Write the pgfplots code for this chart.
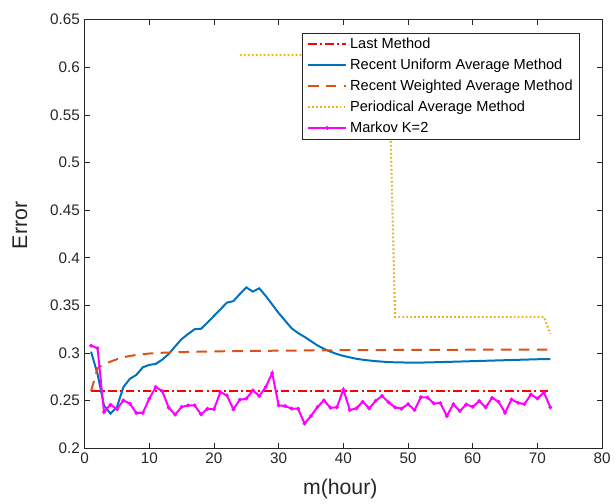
\documentclass[border=0pt]{standalone}
\usepackage{fontspec}
\setmainfont{Liberation Sans}
\usepackage{pgfplots}
\pgfplotsset{compat=1.18}

\definecolor{mlred}{rgb}{1,0,0}
\definecolor{mlblue}{rgb}{0,0.447,0.741}
\definecolor{mlorange}{rgb}{0.85,0.325,0.098}
\definecolor{mlyellow}{rgb}{0.929,0.694,0.125}
\definecolor{mlmagenta}{rgb}{1,0,1}
\definecolor{axgray}{gray}{0.15}

\begin{document}
\begin{tikzpicture}
\begin{axis}[
  scale only axis,
  width=390pt, height=323pt,
  xmin=0, xmax=80, ymin=0.2, ymax=0.65,
  xtick={0,10,...,80},
  ytick={0.2,0.25,...,0.65},
  tick align=inside,
  major tick length=3.75pt,
  axis line style={axgray, line width=0.6pt},
  every tick/.style={axgray, line width=0.6pt},
  tick label style={axgray, font=\fontsize{11.5}{13}\selectfont},
  /pgf/number format/assume math mode=true,
  yticklabel style={/pgf/number format/fixed, /pgf/number format/precision=2},
  xlabel={m(hour)}, ylabel={Error},
  label style={font=\fontsize{16}{18}\selectfont, axgray},
  xlabel style={at={(axis description cs:0.494,-0.095)}, anchor=center},
  ylabel style={at={(axis description cs:-0.125,0.52)}, anchor=center, rotate=0},
  clip=false,
  legend cell align=left,
  legend style={at={(rel axis cs:0.421,0.970)}, anchor=north west,
    draw=axgray, line width=0.6pt, fill=white,
    font=\fontsize{11}{13}\selectfont,
    inner xsep=3pt, inner ysep=1.5pt, row sep=2pt,
    nodes={inner xsep=2pt, inner ysep=2pt, text height=8.2pt, text depth=1.6pt}},
  legend image code/.code={\draw[mark repeat=2,mark phase=2,#1]
    plot coordinates {(0pt,0pt) (14.5pt,0pt) (29pt,0pt)};},
]
% keep the page size in the reference's proportions
\path (rel axis cs:-0.1635,-0.125) rectangle (rel axis cs:1.019,1.046);

\addplot[mlred, line width=1.6pt, dash pattern=on 6.5pt off 2.5pt on 1.5pt off 2.5pt]
  coordinates {(1,0.26) (72,0.26)};
\addlegendentry{Last Method}

\addplot[mlblue, line width=1.5pt] coordinates {
(1,0.3015) (2,0.278) (3,0.245) (4,0.2364) (5,0.2434) (6,0.2643) (7,0.273)
(8,0.2771) (9,0.2851) (10,0.2876) (11,0.2886) (12,0.2931) (13,0.299)
(14,0.307) (15,0.3147) (16,0.320) (17,0.325) (18,0.3255) (19,0.332)
(20,0.339) (21,0.346) (22,0.353) (23,0.3545) (24,0.362) (25,0.369)
(26,0.3645) (27,0.368) (28,0.360) (29,0.351) (30,0.342) (31,0.334)
(32,0.326) (33,0.321) (34,0.317) (35,0.3125) (36,0.308) (37,0.3045)
(38,0.3015) (39,0.299) (40,0.297) (41,0.2955) (42,0.294) (43,0.293)
(44,0.2922) (45,0.2915) (46,0.291) (47,0.2905) (48,0.2903) (50,0.2900)
(52,0.2900) (55,0.2905) (60,0.2915) (65,0.2925) (70,0.2935) (72,0.2937)};
\addlegendentry{Recent Uniform Average Method}

\addplot[mlorange, line width=1.5pt, dash pattern=on 8pt off 5.5pt] coordinates {
(1,0.260) (2,0.284) (3,0.2885) (4,0.291) (5,0.2935) (6,0.2955) (7,0.297)
(8,0.298) (9,0.2988) (10,0.2995) (12,0.3003) (15,0.301) (20,0.3018)
(30,0.3025) (40,0.303) (50,0.3033) (60,0.3035) (72,0.3037)};
\addlegendentry{Recent Weighted Average Method}

\addplot[mlyellow, line width=1.6pt, dash pattern=on 1.3pt off 1.7pt] coordinates {
(24,0.613) (47,0.613) (48,0.338) (71,0.338) (72,0.320)};
\addlegendentry{Periodical Average Method}

\addplot[mlmagenta, line width=1.5pt, mark=*, mark size=0.55pt] coordinates {
(1,0.3078) (2,0.305) (3,0.2382) (4,0.2458) (5,0.241) (6,0.2503) (7,0.2469)
(8,0.2371) (9,0.2371) (10,0.2521) (11,0.2643) (12,0.2601) (13,0.2427)
(14,0.2354) (15,0.2434) (16,0.2451) (17,0.2451) (18,0.2357) (19,0.2416)
(20,0.241) (21,0.259) (22,0.2556) (23,0.241) (24,0.251) (25,0.2521)
(26,0.2608) (27,0.2549) (28,0.2643) (29,0.2789) (30,0.2451) (31,0.2444)
(32,0.2416) (33,0.2416) (34,0.226) (35,0.234) (36,0.2434) (37,0.2503)
(38,0.2426) (39,0.243) (40,0.2617) (41,0.2402) (42,0.2419) (43,0.2489)
(44,0.2419) (45,0.2499) (46,0.2551) (47,0.2482) (48,0.243) (49,0.2416)
(50,0.2464) (51,0.2402) (52,0.2537) (53,0.2534) (54,0.2471) (55,0.2475)
(56,0.2339) (57,0.2464) (58,0.2391) (59,0.2461) (60,0.2436) (61,0.2496)
(62,0.243) (63,0.253) (64,0.2489) (65,0.2374) (66,0.2513) (67,0.2478)
(68,0.2464) (69,0.2565) (70,0.2523) (71,0.2586) (72,0.243)};
\addlegendentry{Markov K=2}
\end{axis}
\end{tikzpicture}
\end{document}
